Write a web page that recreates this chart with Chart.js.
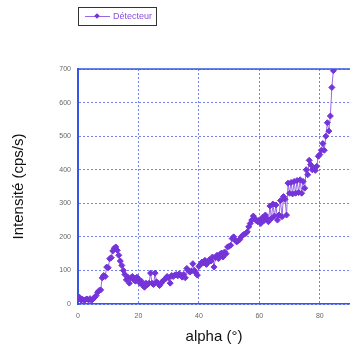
<!DOCTYPE html>
<html>
<head>
<meta charset="utf-8">
<script src="https://cdn.jsdelivr.net/npm/chart.js@4.4.1/dist/chart.umd.min.js"></script>
<style>
  body { margin: 0; background: #fff; }
  #wrap { position: relative; width: 350px; height: 347px; }
  #legend {
    position: absolute; left: 78px; top: 7px; width: 77px; height: 17px;
    border: 1px solid #333; font: 9px "Liberation Sans", Arial, sans-serif;
    color: #8a4fe0; line-height: 17px; box-sizing: content-box;
  }
  #legend .sw { position: absolute; left: 6px; top: 8px; width: 25px; height: 1px; background: #9a68e6; }
  #legend .mk { position: absolute; left: 16px; top: 6px; width: 4px; height: 4px; background: #7434d8; transform: rotate(45deg); }
  #legend .tx { position: absolute; left: 34px; top: 0; }
</style>
</head>
<body>
<div id="wrap">
  <canvas id="detectorChart" width="350" height="347"></canvas>
  <div id="legend"><span class="sw"></span><span class="mk"></span><span class="tx">Détecteur</span></div>
</div>
<script>
// values, one every 0.5 degree
const alpha = [];
for (let i = 0; i <= 169; i++) alpha.push(i * 0.5);

const intensity = [
  17, 20, 12, 14, 11, 13, 15, 12, 16, 11,
  15, 20, 25, 35, 40, 42, 78, 85, 82, 110,
  108, 135, 138, 158, 166, 170, 160, 145, 128, 115,
  100, 88, 72, 80, 62, 78, 82, 72, 68, 80,
  75, 62, 68, 55, 50, 62, 58, 62, 92, 62,
  58, 92, 66, 62, 55, 62, 68, 72, 75, 82,
  78, 62, 85, 82, 86, 88, 84, 90, 86, 80,
  88, 78, 106, 100, 95, 98, 120, 100, 92, 86,
  112, 118, 125, 122, 130, 118, 125, 132, 128, 140,
  110, 138, 145, 135, 148, 152, 140, 155, 150, 170,
  172, 175, 195, 200, 190, 185, 188, 192, 200, 205,
  208, 210, 215, 230, 240, 250, 262, 255, 248, 245,
  250, 240, 258, 248, 265, 255, 245, 292, 255, 298,
  262, 295, 250, 265, 308, 260, 320, 312, 265, 360,
  330, 362, 328, 365, 330, 368, 332, 370, 330, 365,
  345, 400, 385, 428, 415, 400, 405, 398, 410, 440,
  445, 458, 478, 458, 500, 540, 515, 560, 645, 695
];

const xTicks = [0, 20, 40, 60, 80];

const points = alpha.map((a, i) => ({ x: a, y: intensity[i] }));

const blue = '#3556e6';
const gridBlue = 'rgba(70, 90, 235, 0.75)';

// solid frame line along the top of the plot
const topLine = {
  id: 'topLine',
  afterDraw(chart) {
    const { ctx, chartArea } = chart;
    ctx.save();
    ctx.strokeStyle = blue;
    ctx.lineWidth = 1.5;
    ctx.beginPath();
    ctx.moveTo(chartArea.left, chartArea.top);
    ctx.lineTo(chartArea.right, chartArea.top);
    ctx.stroke();
    ctx.restore();
  }
};

const ctx = document.getElementById('detectorChart').getContext('2d');
new Chart(ctx, {
  type: 'line',
  data: {
    datasets: [
      {
        label: 'Détecteur',
        data: points,
        borderColor: '#9a68e6',
        borderWidth: 1,
        pointStyle: 'rectRot',
        pointRadius: 3,
        pointBackgroundColor: '#7434d8',
        pointBorderColor: '#7434d8',
        pointBorderWidth: 1,
        tension: 0,
      },
    ],
  },
  options: {
    responsive: false,
    animation: false,
    layout: { autoPadding: false, padding: { top: 69, right: 0, left: 0, bottom: 0 } },
    plugins: {
      legend: { display: false },
      tooltip: { enabled: false },
    },
    scales: {
      x: {
        type: 'linear',
        min: 0,
        max: 90,
        afterBuildTicks: scale => {
          scale.ticks = xTicks.map(v => ({ value: v }));
        },
        afterFit: scale => {
          scale.height = 43;
          scale.paddingLeft = 0;
          scale.paddingRight = 0;
        },
        grid: {
          color: c => (c.tick && xTicks.includes(c.tick.value) ? gridBlue : 'rgba(0,0,0,0)'),
          lineWidth: 1,
          drawTicks: false,
        },
        border: { color: blue, width: 1.5, dash: [2, 2] },
        ticks: {
          padding: 8,
          color: '#666',
          font: { family: 'Liberation Sans', size: 7 },
        },
        title: {
          display: true,
          text: 'alpha (°)',
          color: '#111',
          font: { family: 'Liberation Sans', size: 15 },
          padding: { top: 0, bottom: 1 },
        },
      },
      y: {
        min: 0,
        max: 700,
        afterFit: scale => { scale.width = 78; },
        grid: { color: gridBlue, lineWidth: 1, drawTicks: false },
        border: { color: blue, width: 2, dash: [2, 2] },
        ticks: {
          stepSize: 100,
          padding: 7,
          color: '#666',
          font: { family: 'Liberation Sans', size: 7 },
        },
        title: {
          display: true,
          text: 'Intensité (cps/s)',
          color: '#111',
          font: { family: 'Liberation Sans', size: 15 },
          padding: { top: 10, bottom: 0 },
        },
      },
    },
  },
  plugins: [topLine],
});
</script>
</body>
</html>
